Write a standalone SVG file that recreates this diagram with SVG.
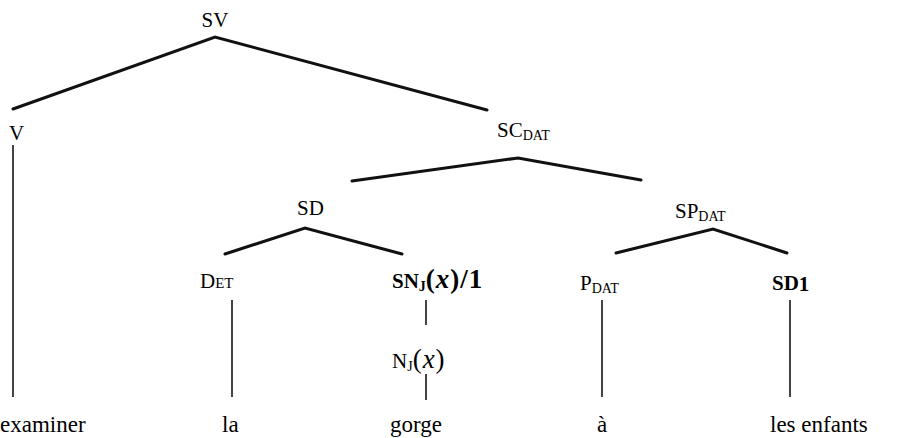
<svg xmlns="http://www.w3.org/2000/svg" width="897" height="438" viewBox="0 0 897 438">
<style>
text{font-family:"Liberation Serif","Times New Roman","DejaVu Serif",serif;fill:#000}
.lab{font-size:21px}
.word{font-size:23px}
.sub{font-size:14px}
.sc{font-size:15px}
.b{font-weight:bold}
.px{font-size:27px;letter-spacing:1px}
.br{stroke:#111;stroke-width:3;fill:none;stroke-linecap:round}
.vt{stroke:#444;stroke-width:2;fill:none}
</style>
<rect width="897" height="438" fill="#fff"/>
<g id="connectors">
<polyline class="br" points="13,109 215,37 487,110"/>
<polyline class="br" points="352,181 518,158 641,180"/>
<polyline class="br" points="225,254 305,228 402,254"/>
<polyline class="br" points="616,253 713,229 787,253"/>
<line class="vt" x1="13" y1="145" x2="13" y2="397"/>
<line class="vt" x1="232" y1="300" x2="232" y2="397"/>
<line class="vt" x1="426" y1="300" x2="426" y2="325"/>
<line class="vt" x1="426" y1="374" x2="426" y2="400"/>
<line class="vt" x1="602" y1="300" x2="602" y2="397"/>
<line class="vt" x1="790" y1="300" x2="790" y2="397"/>
</g>
<g id="n-SV"><text class="lab" x="215" y="27" text-anchor="middle">SV</text></g>
<g id="n-V"><text class="lab" x="9" y="140">V</text></g>
<g id="n-SC"><text class="lab" x="497" y="137">SC<tspan class="sub" dy="3">DAT</tspan></text></g>
<g id="n-SD"><text class="lab" x="297" y="215">SD</text></g>
<g id="n-SP"><text class="lab" x="675" y="218">SP<tspan class="sub" dy="3">DAT</tspan></text></g>
<g id="n-DET"><text class="lab" x="200" y="288">D<tspan class="sc">ET</tspan></text></g>
<g id="n-SNJ"><text class="lab b" x="392" y="288">SN<tspan class="sub" dy="3">J</tspan><tspan class="px" dy="-3">(<tspan font-style="italic">x</tspan>)/1</tspan></text></g>
<g id="n-NJ"><text class="lab" x="392" y="368">N<tspan class="sub" dy="3">J</tspan><tspan class="px" dy="-3">(<tspan font-style="italic">x</tspan>)</tspan></text></g>
<g id="n-PDAT"><text class="lab" x="580" y="290">P<tspan class="sub" dy="3">DAT</tspan></text></g>
<g id="n-SD1"><text class="lab b" x="772" y="290">SD<tspan font-size="21" dy="1">1</tspan></text></g>
<g id="w-examiner"><text class="word" x="0" y="432">examiner</text></g>
<g id="w-la"><text class="word" x="222" y="432">la</text></g>
<g id="w-gorge"><text class="word" x="390" y="432">gorge</text></g>
<g id="w-a"><text class="word" x="597" y="432">à</text></g>
<g id="w-les"><text class="word" x="770" y="432">les enfants</text></g>
</svg>
